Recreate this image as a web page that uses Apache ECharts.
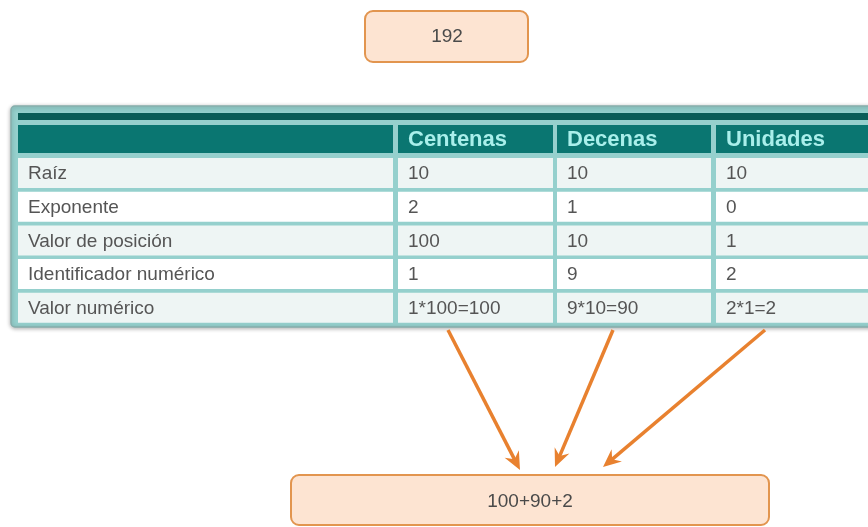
<!DOCTYPE html>
<html>
<head>
<meta charset="utf-8">
<script src="https://cdn.jsdelivr.net/npm/echarts@6/dist/echarts.min.js"></script>
<style>html,body{margin:0;padding:0;background:#fff;}#c{width:868px;height:527px;}</style>
</head>
<body>
<div id="c"></div>
<script>
// ---- data ----
const topValue = '192';
const columns = ['Centenas', 'Decenas', 'Unidades'];
const rowLabels = ['Raíz', 'Exponente', 'Valor de posición', 'Identificador numérico', 'Valor numérico'];
const raiz = ['10', '10', '10'];
const exponente = ['2', '1', '0'];
const valorPosicion = ['100', '10', '1'];
const identificador = ['1', '9', '2'];
const valorNumerico = ['1*100=100', '9*10=90', '2*1=2'];
const sumText = '100+90+2';

// ---- layout ----
const FONT = '"Liberation Sans", Arial, sans-serif';
const rows = [raiz, exponente, valorPosicion, identificador, valorNumerico];
const colX = [18, 398, 557, 716];
const colW = [375, 155, 154, 170];
const headerY = 125, headerH = 28;
const rowY0 = 158, pitch = 33.7, rowH = 30;
const bodySize = 19, headSize = 22, pad = 10;

const g = [];
// top box
g.push({type:'rect', shape:{x:365, y:11, width:163, height:51, r:8},
  style:{fill:'#fde4d2', stroke:'#e2954f', lineWidth:2}});
g.push({type:'text', x:447, y:37, style:{text:topValue, font:'19px '+FONT, fill:'#4a4a4a', align:'center', verticalAlign:'middle'}});

// table frame
g.push({type:'rect', shape:{x:11, y:106, width:880, height:221, r:4},
  style:{fill:'#95d0cd', stroke:'#86aeac', lineWidth:1.5, shadowBlur:4, shadowColor:'rgba(0,0,0,0.3)', shadowOffsetY:1}});
g.push({type:'rect', shape:{x:18, y:113, width:870, height:7}, style:{fill:'#0b5d58'}});
// header
for (let c = 0; c < 4; c++) {
  g.push({type:'rect', shape:{x:colX[c], y:headerY, width:colW[c], height:headerH}, style:{fill:'#0a7671'}});
  if (c > 0) g.push({type:'text', x:colX[c]+pad, y:headerY+headerH/2+1,
    style:{text:columns[c-1], font:'bold '+headSize+'px '+FONT, fill:'#a9efeb', verticalAlign:'middle'}});
}
// body
for (let r = 0; r < rowLabels.length; r++) {
  const y = rowY0 + r*pitch;
  const fill = (r % 2 === 0) ? '#eef5f4' : '#ffffff';
  for (let c = 0; c < 4; c++) {
    g.push({type:'rect', shape:{x:colX[c], y:y, width:colW[c], height:rowH}, style:{fill:fill}});
    const t = c === 0 ? rowLabels[r] : rows[r][c-1];
    g.push({type:'text', x:colX[c]+pad, y:y+rowH/2+1,
      style:{text:t, font:bodySize+'px '+FONT, fill:'#555555', verticalAlign:'middle'}});
  }
}

// bottom box
g.push({type:'rect', shape:{x:291, y:475, width:478, height:50, r:8},
  style:{fill:'#fde4d2', stroke:'#e2954f', lineWidth:2}});
g.push({type:'text', x:530, y:502, style:{text:sumText, font:'19px '+FONT, fill:'#4a4a4a', align:'center', verticalAlign:'middle'}});

// arrows
const arrows = [[448,330,520,470],[613,330,555,467],[765,330,603,467]];
arrows.forEach(a => {
  const [x1,y1,x2,y2] = a;
  const dx = x2-x1, dy = y2-y1, L = Math.hypot(dx,dy);
  const ux = dx/L, uy = dy/L, px = -uy, py = ux;
  const hl = 18, hw = 8;
  const bx = x2-ux*hl, by = y2-uy*hl;
  g.push({type:'line', shape:{x1:x1, y1:y1, x2:x2-ux*8, y2:y2-uy*8}, style:{stroke:'#e8812f', lineWidth:3.5}});
  g.push({type:'polygon', shape:{points:[[x2,y2],[bx+px*hw,by+py*hw],[x2-ux*12,y2-uy*12],[bx-px*hw,by-py*hw]]}, style:{fill:'#e8812f'}});
});

const chart = echarts.init(document.getElementById('c'));
chart.setOption({animation:false, graphic:g});
</script>
</body>
</html>
